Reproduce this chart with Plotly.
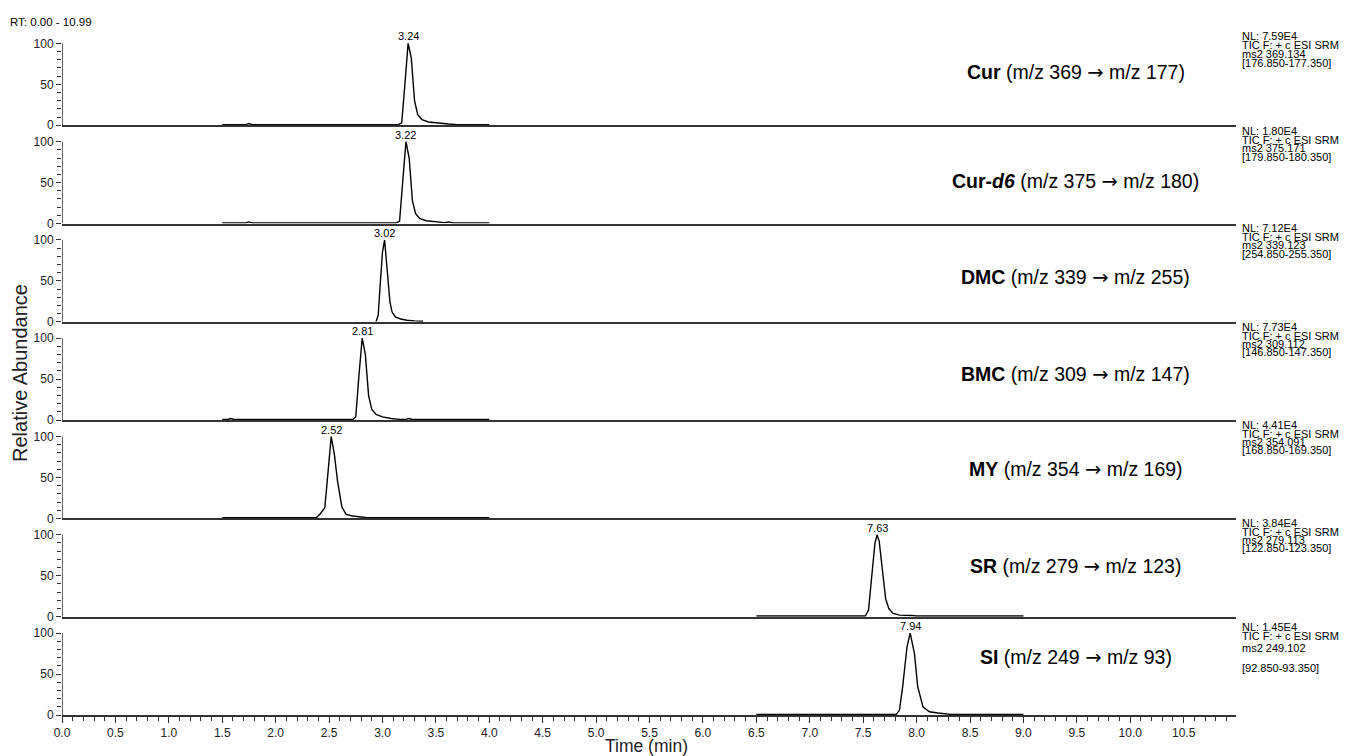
import plotly.graph_objects as go
from plotly.subplots import make_subplots

# ---------------- data ----------------
NAMES = ["Cur", "Cur-d6", "DMC", "BMC", "MY", "SR", "SI"]
ARROW = '<span style="font-family:DejaVu Sans">→</span>'
LABEL_HTML = [
    "<b>Cur</b> (m/z 369 " + ARROW + " m/z 177)",
    "<b>Cur-<i>d6</i></b> (m/z 375 " + ARROW + " m/z 180)",
    "<b>DMC</b> (m/z 339 " + ARROW + " m/z 255)",
    "<b>BMC</b> (m/z 309 " + ARROW + " m/z 147)",
    "<b>MY</b> (m/z 354 " + ARROW + " m/z 169)",
    "<b>SR</b> (m/z 279 " + ARROW + " m/z 123)",
    "<b>SI</b> (m/z 249 " + ARROW + " m/z 93)",
]
PEAK_RT = [3.24, 3.22, 3.02, 2.81, 2.52, 7.63, 7.94]
PEAK_LABELS = ["3.24", "3.22", "3.02", "2.81", "2.52", "7.63", "7.94"]
NL_VALUES = ["NL: 7.59E4", "NL: 1.80E4", "NL: 7.12E4", "NL: 7.73E4", "NL: 4.41E4", "NL: 3.84E4", "NL: 1.45E4"]
SCAN_TEXT = "TIC F: + c ESI SRM"
MS2_TEXT = ["ms2 369.134", "ms2 375.171", "ms2 339.123", "ms2 309.112", "ms2 354.091", "ms2 279.113", "ms2 249.102"]
RANGE_TEXT = ["[176.850-177.350]", "[179.850-180.350]", "[254.850-255.350]", "[146.850-147.350]",
              "[168.850-169.350]", "[122.850-123.350]", "[92.850-93.350]"]

CUR_T = [1.50, 1.72, 1.75, 1.78, 3.15, 3.18, 3.21, 3.24, 3.27, 3.30, 3.33, 3.37, 3.43, 3.52, 3.62, 3.70, 4.00]
CUR_Y = [0.8, 0.8, 2.2, 0.8, 0.8, 3.0, 50, 100, 82, 30, 13, 7, 4, 2.5, 1.5, 0.8, 0.8]

CURD6_T = [1.50, 1.72, 1.75, 1.78, 3.13, 3.16, 3.19, 3.22, 3.25, 3.28, 3.31, 3.35, 3.41, 3.50, 3.58, 3.62, 3.66, 4.00]
CURD6_Y = [0.8, 0.8, 2.0, 0.8, 0.8, 3.0, 52, 100, 80, 28, 12, 6, 3.5, 2.0, 1.2, 2.0, 0.8, 0.8]

DMC_T = [2.94, 2.96, 2.98, 3.00, 3.02, 3.04, 3.07, 3.09, 3.12, 3.17, 3.23, 3.30, 3.38]
DMC_Y = [0.5, 8, 48, 85, 100, 70, 24, 12, 6, 3.5, 2.0, 1.2, 0.8]

BMC_T = [1.50, 1.55, 1.58, 1.61, 2.72, 2.75, 2.78, 2.81, 2.84, 2.87, 2.90, 2.94, 3.00, 3.08, 3.16, 3.22, 3.25, 3.28, 4.00]
BMC_Y = [0.8, 0.8, 2.0, 0.8, 0.8, 4, 55, 100, 80, 30, 13, 7, 4, 2, 1, 1, 2.0, 0.8, 0.8]

MY_T = [1.50, 2.38, 2.42, 2.46, 2.49, 2.52, 2.55, 2.58, 2.62, 2.66, 2.72, 2.80, 2.86, 4.00]
MY_Y = [0.8, 0.8, 6, 13, 56, 100, 78, 45, 14, 5, 3, 1.8, 0.8, 0.8]

SR_T = [6.50, 7.52, 7.55, 7.58, 7.61, 7.63, 7.65, 7.68, 7.71, 7.74, 7.78, 7.84, 7.92, 7.96, 8.00, 9.00]
SR_Y = [0.8, 0.8, 8, 45, 90, 100, 92, 57, 22, 10, 4, 2, 2, 1.5, 0.8, 0.8]

SI_T = [6.50, 7.81, 7.84, 7.87, 7.91, 7.94, 7.98, 8.01, 8.06, 8.12, 8.20, 8.27, 8.32, 9.00]
SI_Y = [0.8, 0.8, 6, 35, 83, 100, 75, 35, 10, 4, 2.5, 2.0, 0.8, 0.8]

TRACES = [(CUR_T, CUR_Y), (CURD6_T, CURD6_Y), (DMC_T, DMC_Y), (BMC_T, BMC_Y),
          (MY_T, MY_Y), (SR_T, SR_Y), (SI_T, SI_Y)]
LABEL_Y = [65, 51, 54, 56, 60, 61, 70]

X_MAX = 10.99
X_TICKS = [i * 0.5 for i in range(22)]

# ---------------- layout constants ----------------
OFF = 8  # browser default body margin
W, H = 1359 - OFF, 756 - OFF
REF_L, REF_R, REF_T, REF_B = 62, 1236, 27, 715
ML, MT = REF_L - OFF, REF_T - OFF
MR, MB = W - (REF_R - OFF), H - (REF_B - OFF)
PW, PH = REF_R - REF_L, REF_B - REF_T
FONT = "Arial, Liberation Sans, sans-serif"
AX = "#333333"
N = len(NAMES)


def py(ypx):
    return 1 - (ypx - REF_T) / PH


def px(xpx):
    return (xpx - REF_L) / PW


fig = make_subplots(rows=N, cols=1, shared_xaxes=True, vertical_spacing=0)

for i, (t, y) in enumerate(TRACES):
    fig.add_trace(go.Scatter(x=t, y=y, mode="lines", line=dict(color="black", width=1.4),
                             name=NAMES[i], showlegend=False, hoverinfo="x+y"),
                  row=i + 1, col=1)

annotations = []
shapes = []
panel_h = PH / N
info_offsets = [[9, 18, 26.5, 36], [5.7, 14.7, 23, 32], [4.4, 13.4, 21.7, 30], [5, 14, 22, 30],
                [4.8, 13.8, 22, 30.3], [4.5, 13.5, 21.8, 30], [10, 19, 31, 51]]

for i in range(N):
    n = "" if i == 0 else str(i + 1)
    xr, yr = "x" + n, "y" + n
    shapes.append(dict(type="line", xref=xr, yref=yr, x0=0, x1=0, y0=0, y1=100,
                       line=dict(color=AX, width=1.5), layer="above"))
    annotations.append(dict(x=PEAK_RT[i], y=100, xref=xr, yref=yr, text=PEAK_LABELS[i],
                            showarrow=False, yanchor="bottom", yshift=-1,
                            font=dict(family=FONT, size=11, color="black")))
    annotations.append(dict(x=9.49, y=LABEL_Y[i], xref=xr, yref=yr, text=LABEL_HTML[i],
                            showarrow=False, xanchor="center", yanchor="middle",
                            font=dict(family=FONT, size=19.5, color="black")))
    top = REF_T + i * panel_h
    for txt, off in zip([NL_VALUES[i], SCAN_TEXT, MS2_TEXT[i], RANGE_TEXT[i]], info_offsets[i]):
        annotations.append(dict(x=px(1240), y=py(top + off), xref="paper", yref="paper", text=txt,
                                showarrow=False, xanchor="left", yanchor="middle",
                                font=dict(family=FONT, size=11, color="black")))

    fig.update_yaxes(row=i + 1, col=1, range=[0, 120], showline=False, showgrid=False, zeroline=False,
                     tickmode="array", tickvals=[0, 50, 100], ticktext=["0", "50", "100"],
                     ticks="outside", ticklen=5, tickwidth=1, tickcolor=AX,
                     minor=dict(tickmode="array", tickvals=[10, 20, 30, 40, 60, 70, 80, 90],
                                ticks="outside", ticklen=4, tickwidth=1, tickcolor=AX),
                     tickfont=dict(family=FONT, size=12, color="#222"), fixedrange=True)
    fig.update_xaxes(row=i + 1, col=1, range=[0, X_MAX], showline=True, linecolor=AX, linewidth=1.5,
                     showgrid=False, zeroline=False, ticks="", showticklabels=False)

fig.update_xaxes(row=N, col=1, ticks="outside", ticklen=6, tickwidth=1, tickcolor=AX,
                 tickmode="array", tickvals=X_TICKS, ticktext=[f"{v:.1f}" for v in X_TICKS],
                 showticklabels=True, tickfont=dict(family=FONT, size=12, color="#222"),
                 minor=dict(dtick=0.1, tick0=0, ticks="outside", ticklen=4, tickwidth=1, tickcolor=AX))

annotations.append(dict(x=px(8), y=py(22), xref="paper", yref="paper", text="RT: 0.00 - 10.99",
                        showarrow=False, xanchor="left", yanchor="middle",
                        font=dict(family=FONT, size=11.5, color="black")))
annotations.append(dict(x=px(20), y=py(373), xref="paper", yref="paper", text="Relative Abundance",
                        showarrow=False, xanchor="center", yanchor="middle", textangle=-90,
                        font=dict(family=FONT, size=20, color="#222")))
annotations.append(dict(x=px(646), y=py(746), xref="paper", yref="paper", text="Time (min)",
                        showarrow=False, xanchor="center", yanchor="middle",
                        font=dict(family=FONT, size=17.5, color="#222")))

fig.update_layout(width=W, height=H, margin=dict(l=ML, r=MR, t=MT, b=MB, pad=0),
                  paper_bgcolor="white", plot_bgcolor="white",
                  annotations=annotations, shapes=shapes, showlegend=False)

fig.write_html("out.html")
